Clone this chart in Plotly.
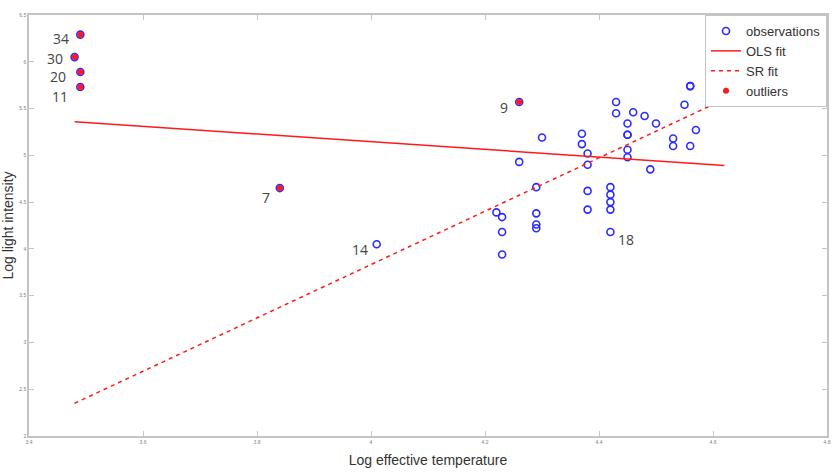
import plotly.graph_objects as go

# ---- data: Hertzsprung-Russell star cluster (log Te, log light) ----
log_te = [4.37, 4.56, 4.26, 4.56, 4.30, 4.46, 3.84, 4.57, 4.26, 4.37,
          3.49, 4.43, 4.48, 4.01, 4.29, 4.42, 4.23, 4.42, 4.23, 3.49,
          4.29, 4.29, 4.42, 4.49, 4.38, 4.42, 4.29, 4.38, 4.22, 3.48,
          4.38, 4.56, 4.45, 3.49, 4.23, 4.62, 4.53, 4.45, 4.53, 4.43,
          4.38, 4.45, 4.50, 4.45, 4.55, 4.45, 4.42]
log_light = [5.23, 5.74, 4.93, 5.74, 5.19, 5.46, 4.65, 5.27, 5.57, 5.12,
             5.73, 5.45, 5.42, 4.05, 4.26, 4.58, 3.94, 4.18, 4.18, 5.89,
             4.38, 4.22, 4.42, 4.85, 5.02, 4.66, 4.66, 4.90, 4.39, 6.05,
             4.42, 5.10, 5.22, 6.29, 4.34, 5.62, 5.10, 5.22, 5.18, 5.57,
             4.62, 5.06, 5.34, 5.34, 5.54, 4.98, 4.50]

outlier_ids = [7, 9, 11, 20, 30, 34]
labelled_ids = [34, 30, 20, 11, 9, 7, 14, 18]

# fitted lines (endpoints)
ols_x = [3.48, 4.62]
ols_y = [5.36, 4.89]
sr_x = [3.48, 4.62]
sr_y = [2.35, 5.60]

x_ticks = [3.4, 3.6, 3.8, 4.0, 4.2, 4.4, 4.6, 4.8]
y_ticks = [2, 2.5, 3, 3.5, 4, 4.5, 5, 5.5, 6, 6.5]

# label offsets (pixels) per labelled point
label_dx = [-9, -10, -12, -10, -9, -8, -7, 6]
label_dy = [-4, -1, -4, -9, -5, -9, -5, -7]

BLUE = "#2b2bff"
RED = "#ff1a1a"
AXIS = "#c4c4c4"

fig = go.Figure()
fig.add_trace(go.Scatter(
    x=log_te, y=log_light, mode="markers", name="observations",
    marker=dict(symbol="circle-open", size=7, color=BLUE, line=dict(width=1.6, color=BLUE))))
fig.add_trace(go.Scatter(
    x=ols_x, y=ols_y, mode="lines", name="OLS fit",
    line=dict(color=RED, width=1.5)))
fig.add_trace(go.Scatter(
    x=sr_x, y=sr_y, mode="lines", name="SR fit",
    line=dict(color=RED, width=1.5, dash="4px,4px")))
fig.add_trace(go.Scatter(
    x=[log_te[i - 1] for i in outlier_ids], y=[log_light[i - 1] for i in outlier_ids],
    mode="markers", name="outliers",
    marker=dict(symbol="circle", size=6, color=RED, line=dict(width=0))))

for k, pid in enumerate(labelled_ids):
    fig.add_annotation(
        x=log_te[pid - 1], y=log_light[pid - 1], text=str(pid), showarrow=False,
        xanchor="right" if label_dx[k] < 0 else "left", yanchor="middle",
        xshift=label_dx[k], yshift=label_dy[k],
        font=dict(family="Open Sans", size=14, color="#444444"))

axis_common = dict(
    showline=True, linecolor=AXIS, linewidth=1.5, mirror="ticks",
    ticks="inside", ticklen=5, tickcolor=AXIS, tickwidth=1,
    showgrid=False, zeroline=False,
    tickfont=dict(family="Liberation Sans", size=5, color="#808080"))

fig.update_xaxes(range=[3.4, 4.8], tickvals=x_ticks, ticktext=[f"{v:g}" for v in x_ticks],
                 title=dict(text="Log effective temperature", standoff=11,
                            font=dict(family="Liberation Sans", size=14, color="#333333")),
                 **axis_common)
fig.update_yaxes(range=[2, 6.5], tickvals=y_ticks, ticktext=[f"{v:g}" for v in y_ticks],
                 title=dict(text="Log light intensity", standoff=4,
                            font=dict(family="Liberation Sans", size=14, color="#333333")),
                 **axis_common)

fig.update_layout(
    width=837, height=474,
    margin=dict(l=29, r=10, t=15, b=38, autoexpand=False),
    plot_bgcolor="white", paper_bgcolor="white",
    legend=dict(x=1, y=1, xanchor="right", yanchor="top",
                bgcolor="white", bordercolor="#c4c4c4", borderwidth=1,
                font=dict(family="Liberation Sans", size=13, color="#333333"),
                itemwidth=30, tracegroupgap=0),
    showlegend=True,
)

fig.write_html("out.html")
